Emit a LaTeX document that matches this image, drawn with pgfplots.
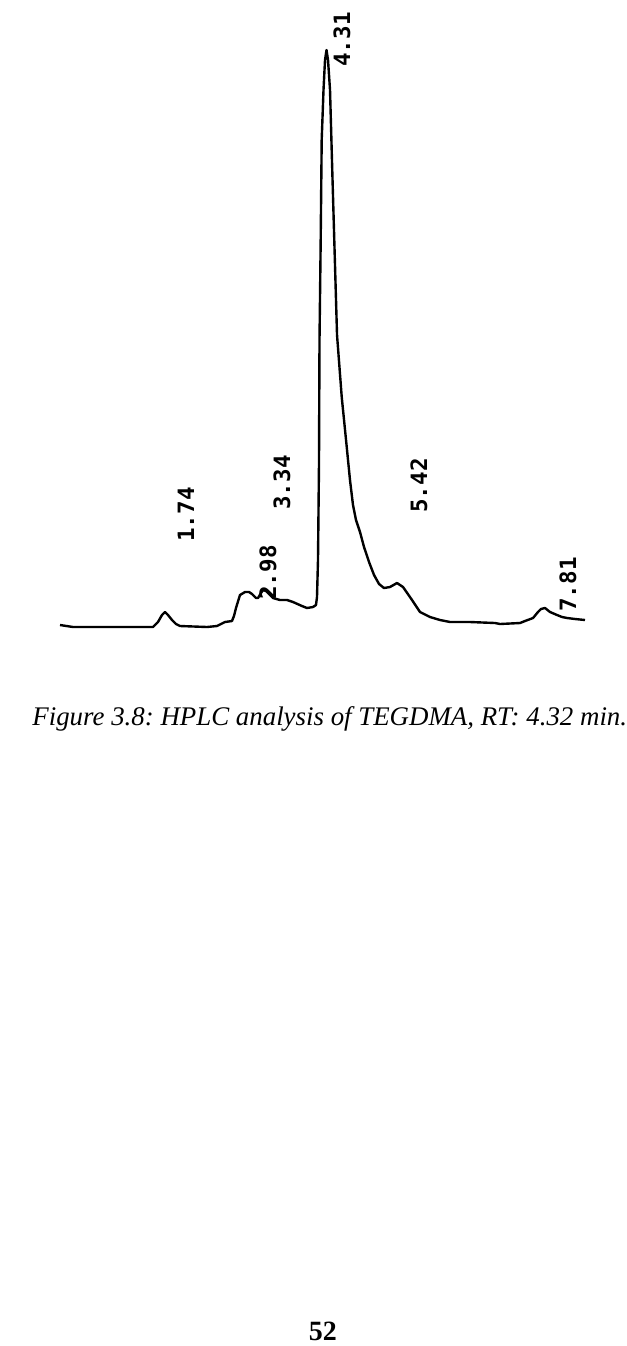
\documentclass[border=0pt]{standalone}
\usepackage{fontspec}
\setmainfont{Liberation Serif}
\newfontfamily\labelfont{DejaVu Sans Mono}
\usepackage{pgfplots}
\pgfplotsset{compat=1.18}
\tikzset{lbl/.style={rotate=90, anchor=west, inner sep=0pt, font=\labelfont\bfseries\fontsize{10.8}{13}\selectfont}}
\frenchspacing

\begin{document}
\begin{tikzpicture}
\path[use as bounding box] (0,0) rectangle (300.48pt,-646.08pt);
\begin{axis}[
  at={(28.8pt,-302.4pt)}, anchor=south west,
  scale only axis, width=252pt, height=288pt,
  xmin=0.063, xmax=8.449, ymin=0, ymax=600,
  hide axis, clip=false,
]
% retention time (min) vs detector response (arbitrary)
\addplot[black, line width=1.15pt, line join=round, mark=none] table {
t h
0.063 5
0.270 3
0.702 3
1.181 3
1.548 3
1.628 8
1.692 15
1.740 18
1.788 15
1.852 10
1.916 6
1.980 4
2.411 3
2.571 4
2.698 8
2.810 9
2.842 14
2.874 22
2.938 35
3.018 38
3.082 38
3.130 36
3.194 32
3.226 32
3.274 37
3.305 40
3.353 39
3.385 37
3.465 32
3.577 30
3.689 30
3.785 28
3.928 24
4.008 22
4.104 23
4.152 25
4.168 33
4.184 70
4.200 167
4.208 290
4.227 390
4.243 490
4.272 540
4.296 570
4.320 580
4.344 570
4.376 540
4.413 457
4.444 390
4.488 295
4.563 233
4.643 183
4.695 150
4.743 125
4.791 110
4.855 98
4.919 83
4.999 68
5.079 55
5.159 46
5.238 42
5.334 43
5.446 47
5.542 43
5.686 30
5.813 18
5.973 13
6.133 10
6.293 8
6.612 8
7.012 7
7.091 6
7.411 7
7.491 9
7.619 12
7.698 18
7.746 21
7.810 22
7.890 18
8.002 15
8.082 13
8.162 12
8.290 11
8.449 10
};
\node[lbl] at (axis cs:2.075,88) {1.74};
\node[lbl] at (axis cs:3.385,30) {2.98};
\node[lbl] at (axis cs:3.609,120) {3.34};
\node[lbl] at (axis cs:4.568,563) {4.31};
\node[lbl] at (axis cs:5.798,117) {5.42};
\node[lbl] at (axis cs:8.178,18) {7.81};
\end{axis}
\node[anchor=base west, inner sep=0pt, font=\itshape\fontsize{12.9}{16}\selectfont] at (15.36pt,-348pt) {Figure 3.8: HPLC analysis of TEGDMA, RT: 4.32 min.};
\node[anchor=base, inner sep=0pt, font=\bfseries\fontsize{13.4}{16}\selectfont] at (155pt,-643.2pt) {52};
\end{tikzpicture}
\end{document}
